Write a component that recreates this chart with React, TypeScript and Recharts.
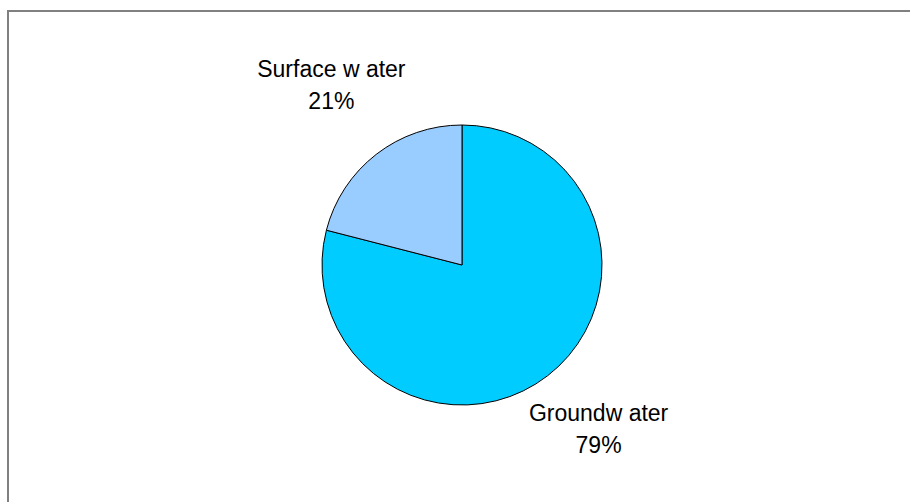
import { PieChart, Pie, Cell } from "recharts";

const sources = ["Groundw ater", "Surface w ater"];
const shares = [79, 21];
const COLORS = ["#00ccff", "#99ccff"];

const data = sources.map((name, i) => ({ name, value: shares[i] }));

const RADIAN = Math.PI / 180;

function renderLabel(props: any) {
  const { cx, cy, midAngle, outerRadius, index } = props;
  const r = outerRadius + 78;
  const x = cx + r * Math.cos(-midAngle * RADIAN) + 3;
  const y = cy + r * Math.sin(-midAngle * RADIAN) - 8;
  return (
    <text
      x={x}
      y={y}
      textAnchor="middle"
      fill="#000"
      fontFamily="'Liberation Sans', Arial, sans-serif"
      fontSize={23}
    >
      <tspan x={x} y={y - 16} dominantBaseline="central">
        {sources[index]}
      </tspan>
      <tspan x={x} y={y + 16} dominantBaseline="central">
        {shares[index]}%
      </tspan>
    </text>
  );
}

export default function App() {
  return (
    <div
      style={{
        position: "absolute",
        left: 0,
        top: 0,
        width: 910,
        height: 502,
        background: "#fff",
        overflow: "hidden",
      }}
    >
      <div
        style={{
          position: "absolute",
          left: 7,
          top: 10,
          width: 910,
          height: 502,
          borderTop: "2px solid #808080",
          borderLeft: "2px solid #808080",
        }}
      />
      <PieChart width={910} height={502} style={{ position: "absolute", left: 0, top: 0 }}>
        <Pie
          data={data}
          dataKey="value"
          cx={457}
          cy={260}
          outerRadius={140}
          startAngle={90}
          endAngle={-270}
          stroke="#000"
          strokeWidth={1}
          label={renderLabel}
          labelLine={false}
          isAnimationActive={false}
        >
          {data.map((_, i) => (
            <Cell key={i} fill={COLORS[i]} />
          ))}
        </Pie>
      </PieChart>
    </div>
  );
}
